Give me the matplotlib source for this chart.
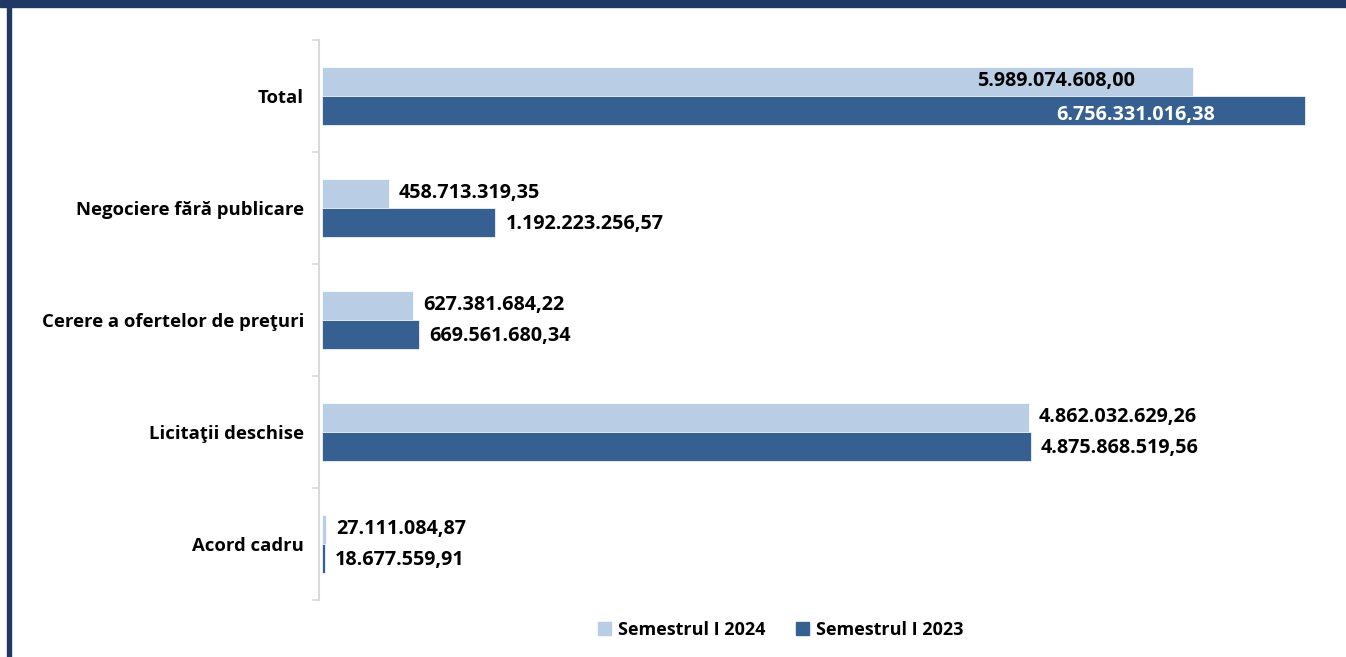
import matplotlib.pyplot as plt
from matplotlib.patches import Rectangle, Patch

categories = ["Total", "Negociere fără publicare", "Cerere a ofertelor de preţuri",
              "Licitaţii deschise", "Acord cadru"]
sem_2024 = [5989074608.00, 458713319.35, 627381684.22, 4862032629.26, 27111084.87]
sem_2023 = [6756331016.38, 1192223256.57, 669561680.34, 4875868519.56, 18677559.91]
labels_2024 = ["5.989.074.608,00", "458.713.319,35", "627.381.684,22",
               "4.862.032.629,26", "27.111.084,87"]
labels_2023 = ["6.756.331.016,38", "1.192.223.256,57", "669.561.680,34",
               "4.875.868.519,56", "18.677.559,91"]

light = "#b9cde5"
dark = "#376092"
navy = "#1f3864"

plt.rcParams['font.family'] = ['Open Sans', 'DejaVu Sans']

fig = plt.figure(figsize=(13.46, 6.57), dpi=100)
ax = fig.add_axes([322 / 1346, 57 / 657, 1018 / 1346, 560 / 657])

# spines first (changing spine position resets the ticks)
for s in ["top", "right", "bottom"]:
    ax.spines[s].set_visible(False)
ax.spines["left"].set_color("#d9d9d9")
ax.spines["left"].set_linewidth(1.5)
ax.spines["left"].set_position(("outward", 2))

n = len(categories)
ypos = [n - 1 - i for i in range(n)]
h = 0.26
ax.barh([y + h / 2 for y in ypos], sem_2024, height=h, color=light, edgecolor="white", linewidth=0.5)
ax.barh([y - h / 2 for y in ypos], sem_2023, height=h, color=dark, edgecolor="white", linewidth=0.5)

ax.set_xlim(0, 7.0e9)
ax.set_ylim(-0.5, n - 0.5)

fs = 14.2
for i, y in enumerate(ypos):
    if i == 0:
        ax.annotate(labels_2024[i], (sem_2024[i], y + h / 2), xytext=(-58, 0),
                    textcoords="offset pixels", ha="right", va="center",
                    fontsize=fs, fontweight="bold", color="black")
        ax.annotate(labels_2023[i], (sem_2023[i], y - h / 2), xytext=(-90, -4),
                    textcoords="offset pixels", ha="right", va="center",
                    fontsize=fs, fontweight="bold", color="white")
    else:
        ax.annotate(labels_2024[i], (sem_2024[i], y + h / 2), xytext=(10, 0),
                    textcoords="offset pixels", ha="left", va="center",
                    fontsize=fs, fontweight="bold", color="black")
        ax.annotate(labels_2023[i], (sem_2023[i], y - h / 2), xytext=(10, -1),
                    textcoords="offset pixels", ha="left", va="center",
                    fontsize=fs, fontweight="bold", color="black")

ax.set_yticks([y - 0.5 for y in range(n + 1)], minor=True)
ax.tick_params(axis="y", which="major", length=0, pad=11)
ax.tick_params(axis="y", which="minor", length=5, color="#d9d9d9", width=1.2)
ax.set_yticks(ypos, categories, fontsize=13.3, fontweight="bold")
ax.set_xticks([])

handles = [Patch(color=light, label="Semestrul I 2024"),
           Patch(color=dark, label="Semestrul I 2023")]
fig.legend(handles=handles, loc="center", bbox_to_anchor=(781 / 1346, 1 - 630 / 657),
           ncol=2, frameon=False, handlelength=0.7, handleheight=0.7,
           handletextpad=0.4, columnspacing=1.7,
           prop={"weight": "bold", "size": 13})

# dark frame at top and left edge
fig.patches.append(Rectangle((0, 1 - 7 / 657), 1, 7 / 657, transform=fig.transFigure,
                             color=navy, zorder=10))
fig.patches.append(Rectangle((7 / 1346, 0), 4 / 1346, 1, transform=fig.transFigure,
                             color=navy, zorder=10))

fig.savefig("out.png", dpi=100)
